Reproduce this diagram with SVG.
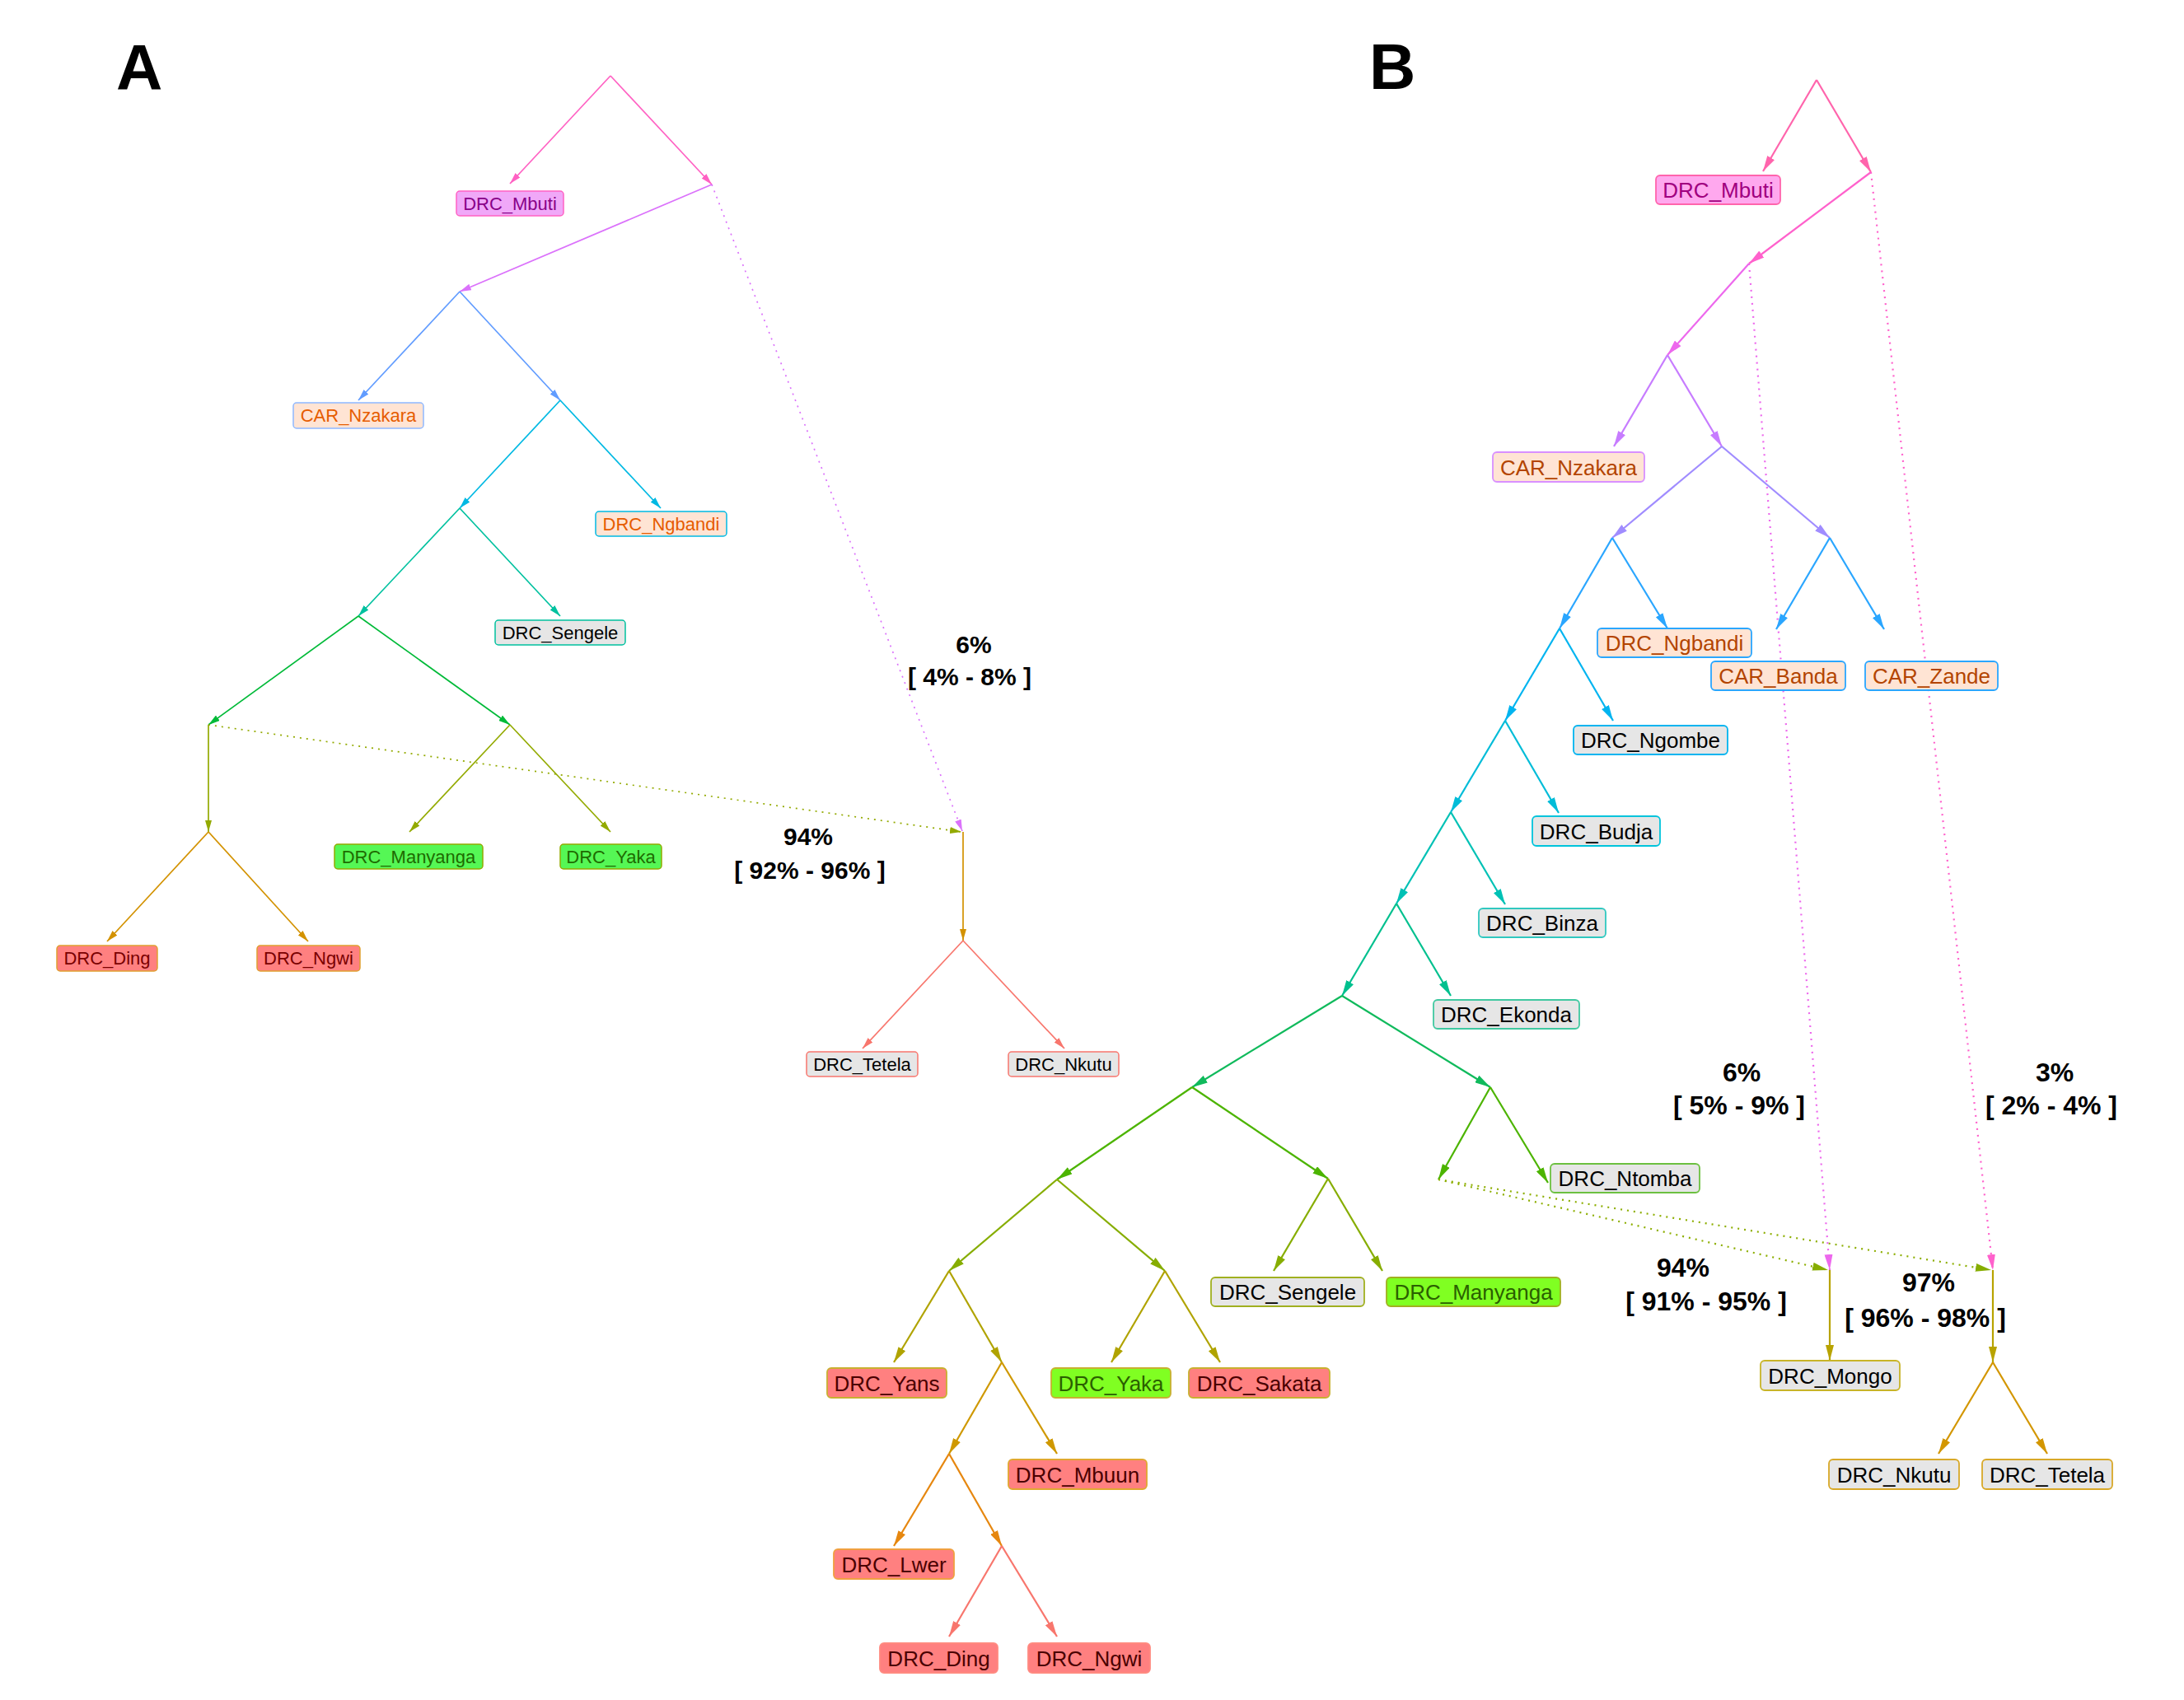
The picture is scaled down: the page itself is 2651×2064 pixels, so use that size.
<svg xmlns="http://www.w3.org/2000/svg" width="2651" height="2064" viewBox="0 0 2651 2064">
<style>
.e{fill:none;stroke-width:1.7}
.eb{fill:none;stroke-width:2.2}
.dot{stroke-dasharray:2 6}
text{font-family:"Liberation Sans",Arial,Helvetica,sans-serif}
.nA rect{stroke-width:1.5}
.nA text{font-size:22px;text-anchor:middle}
.nB rect{stroke-width:1.8}
.nB text{font-size:26px;text-anchor:middle}
.pA{font-size:30px;font-weight:bold;text-anchor:middle;fill:#000}
.pB{font-size:32px;font-weight:bold;text-anchor:middle;fill:#000}
.panel{font-size:78px;font-weight:bold;fill:#000}
.gray rect{fill:#e6e6e6}
.gray text{fill:#000}
.peachA rect{fill:#ffe4d4}
.peachA text{fill:#e65c00}
.peachB rect{fill:#ffe4d4}
.peachB text{fill:#b34400}
.greenA rect{fill:#55f755}
.greenA text{fill:#1e6b00}
.greenB rect{fill:#80ff22}
.greenB text{fill:#2a6000}
.redA rect{fill:#ff8080}
.redA text{fill:#7a0000}
.redB rect{fill:#ff8080}
.redB text{fill:#4a0000}
</style>
<defs>
<marker id="a1" markerUnits="userSpaceOnUse" markerWidth="14" markerHeight="8" viewBox="0 0 14 8" refX="14" refY="4" orient="auto"><path d="M0,0L14,4L0,8z" fill="#ff61c3"/></marker>
<marker id="a2" markerUnits="userSpaceOnUse" markerWidth="14" markerHeight="8" viewBox="0 0 14 8" refX="14" refY="4" orient="auto"><path d="M0,0L14,4L0,8z" fill="#db72fb"/></marker>
<marker id="a3" markerUnits="userSpaceOnUse" markerWidth="14" markerHeight="8" viewBox="0 0 14 8" refX="14" refY="4" orient="auto"><path d="M0,0L14,4L0,8z" fill="#619cff"/></marker>
<marker id="a4" markerUnits="userSpaceOnUse" markerWidth="14" markerHeight="8" viewBox="0 0 14 8" refX="14" refY="4" orient="auto"><path d="M0,0L14,4L0,8z" fill="#00b9e3"/></marker>
<marker id="a5" markerUnits="userSpaceOnUse" markerWidth="14" markerHeight="8" viewBox="0 0 14 8" refX="14" refY="4" orient="auto"><path d="M0,0L14,4L0,8z" fill="#00c19f"/></marker>
<marker id="a6" markerUnits="userSpaceOnUse" markerWidth="14" markerHeight="8" viewBox="0 0 14 8" refX="14" refY="4" orient="auto"><path d="M0,0L14,4L0,8z" fill="#00ba38"/></marker>
<marker id="a7" markerUnits="userSpaceOnUse" markerWidth="14" markerHeight="8" viewBox="0 0 14 8" refX="14" refY="4" orient="auto"><path d="M0,0L14,4L0,8z" fill="#93aa00"/></marker>
<marker id="a8" markerUnits="userSpaceOnUse" markerWidth="14" markerHeight="8" viewBox="0 0 14 8" refX="14" refY="4" orient="auto"><path d="M0,0L14,4L0,8z" fill="#d39200"/></marker>
<marker id="a9" markerUnits="userSpaceOnUse" markerWidth="14" markerHeight="8" viewBox="0 0 14 8" refX="14" refY="4" orient="auto"><path d="M0,0L14,4L0,8z" fill="#f8766d"/></marker>
<marker id="b1" markerUnits="userSpaceOnUse" markerWidth="19" markerHeight="10" viewBox="0 0 19 10" refX="19" refY="5" orient="auto"><path d="M0,0L19,5L0,10z" fill="#ff64ac"/></marker>
<marker id="b2" markerUnits="userSpaceOnUse" markerWidth="19" markerHeight="10" viewBox="0 0 19 10" refX="19" refY="5" orient="auto"><path d="M0,0L19,5L0,10z" fill="#ff61cc"/></marker>
<marker id="b3" markerUnits="userSpaceOnUse" markerWidth="19" markerHeight="10" viewBox="0 0 19 10" refX="19" refY="5" orient="auto"><path d="M0,0L19,5L0,10z" fill="#ed68ed"/></marker>
<marker id="b4" markerUnits="userSpaceOnUse" markerWidth="19" markerHeight="10" viewBox="0 0 19 10" refX="19" refY="5" orient="auto"><path d="M0,0L19,5L0,10z" fill="#c77cff"/></marker>
<marker id="b5" markerUnits="userSpaceOnUse" markerWidth="19" markerHeight="10" viewBox="0 0 19 10" refX="19" refY="5" orient="auto"><path d="M0,0L19,5L0,10z" fill="#a08cff"/></marker>
<marker id="b6" markerUnits="userSpaceOnUse" markerWidth="19" markerHeight="10" viewBox="0 0 19 10" refX="19" refY="5" orient="auto"><path d="M0,0L19,5L0,10z" fill="#2aa6ff"/></marker>
<marker id="b7" markerUnits="userSpaceOnUse" markerWidth="19" markerHeight="10" viewBox="0 0 19 10" refX="19" refY="5" orient="auto"><path d="M0,0L19,5L0,10z" fill="#00b4f0"/></marker>
<marker id="b8" markerUnits="userSpaceOnUse" markerWidth="19" markerHeight="10" viewBox="0 0 19 10" refX="19" refY="5" orient="auto"><path d="M0,0L19,5L0,10z" fill="#00bcd8"/></marker>
<marker id="b9" markerUnits="userSpaceOnUse" markerWidth="19" markerHeight="10" viewBox="0 0 19 10" refX="19" refY="5" orient="auto"><path d="M0,0L19,5L0,10z" fill="#00c1b5"/></marker>
<marker id="b10" markerUnits="userSpaceOnUse" markerWidth="19" markerHeight="10" viewBox="0 0 19 10" refX="19" refY="5" orient="auto"><path d="M0,0L19,5L0,10z" fill="#00c08e"/></marker>
<marker id="b11" markerUnits="userSpaceOnUse" markerWidth="19" markerHeight="10" viewBox="0 0 19 10" refX="19" refY="5" orient="auto"><path d="M0,0L19,5L0,10z" fill="#10ba5c"/></marker>
<marker id="b12" markerUnits="userSpaceOnUse" markerWidth="19" markerHeight="10" viewBox="0 0 19 10" refX="19" refY="5" orient="auto"><path d="M0,0L19,5L0,10z" fill="#4cb400"/></marker>
<marker id="b13" markerUnits="userSpaceOnUse" markerWidth="19" markerHeight="10" viewBox="0 0 19 10" refX="19" refY="5" orient="auto"><path d="M0,0L19,5L0,10z" fill="#86ad00"/></marker>
<marker id="b14" markerUnits="userSpaceOnUse" markerWidth="19" markerHeight="10" viewBox="0 0 19 10" refX="19" refY="5" orient="auto"><path d="M0,0L19,5L0,10z" fill="#b0a300"/></marker>
<marker id="b15" markerUnits="userSpaceOnUse" markerWidth="19" markerHeight="10" viewBox="0 0 19 10" refX="19" refY="5" orient="auto"><path d="M0,0L19,5L0,10z" fill="#cf9800"/></marker>
<marker id="b16" markerUnits="userSpaceOnUse" markerWidth="19" markerHeight="10" viewBox="0 0 19 10" refX="19" refY="5" orient="auto"><path d="M0,0L19,5L0,10z" fill="#e6870f"/></marker>
<marker id="b17" markerUnits="userSpaceOnUse" markerWidth="19" markerHeight="10" viewBox="0 0 19 10" refX="19" refY="5" orient="auto"><path d="M0,0L19,5L0,10z" fill="#f8766d"/></marker>
<marker id="b18" markerUnits="userSpaceOnUse" markerWidth="19" markerHeight="10" viewBox="0 0 19 10" refX="19" refY="5" orient="auto"><path d="M0,0L19,5L0,10z" fill="#d39600"/></marker>
<marker id="bv" markerUnits="userSpaceOnUse" markerWidth="19" markerHeight="10" viewBox="0 0 19 10" refX="19" refY="5" orient="auto"><path d="M0,0L19,5L0,10z" fill="#b8a300"/></marker>
</defs>
<rect x="0" y="0" width="2651" height="2064" fill="#ffffff"/>
<text class="panel" x="141" y="109">A</text>
<text class="panel" x="1662" y="108">B</text>

<g id="connectors">
<g id="connectors-A" class="e">
<path d="M741,92L619,223" stroke="#ff61c3" marker-end="url(#a1)"/>
<path d="M741,92L864,224" stroke="#ff61c3" marker-end="url(#a1)"/>
<path d="M864,224L558,354" stroke="#db72fb" marker-end="url(#a2)"/>
<path class="dot" d="M864,224L1168,1009" stroke="#db72fb" marker-end="url(#a2)"/>
<path d="M558,354L435,486" stroke="#619cff" marker-end="url(#a3)"/>
<path d="M558,354L680,486" stroke="#619cff" marker-end="url(#a3)"/>
<path d="M680,486L558,617" stroke="#00b9e3" marker-end="url(#a4)"/>
<path d="M680,486L802,617" stroke="#00b9e3" marker-end="url(#a4)"/>
<path d="M558,617L435,748" stroke="#00c19f" marker-end="url(#a5)"/>
<path d="M558,617L680,748" stroke="#00c19f" marker-end="url(#a5)"/>
<path d="M435,748L253,880" stroke="#00ba38" marker-end="url(#a6)"/>
<path d="M435,748L619,880" stroke="#00ba38" marker-end="url(#a6)"/>
<path d="M253,880L253,1010" stroke="#93aa00" marker-end="url(#a7)"/>
<path class="dot" d="M253,880L1167,1010" stroke="#93aa00" marker-end="url(#a7)"/>
<path d="M619,880L497,1010" stroke="#93aa00" marker-end="url(#a7)"/>
<path d="M619,880L741,1010" stroke="#93aa00" marker-end="url(#a7)"/>
<path d="M253,1010L130,1143" stroke="#d39200" marker-end="url(#a8)"/>
<path d="M253,1010L374,1143" stroke="#d39200" marker-end="url(#a8)"/>
<path d="M1169,1010L1169,1142" stroke="#d39200" marker-end="url(#a8)"/>
<path d="M1169,1142L1047,1273" stroke="#f8766d" marker-end="url(#a9)"/>
<path d="M1169,1142L1292,1273" stroke="#f8766d" marker-end="url(#a9)"/>
</g>
<g id="connectors-B" class="eb">
<path d="M2205,97L2140,208" stroke="#ff64ac" marker-end="url(#b1)"/>
<path d="M2205,97L2271,209" stroke="#ff64ac" marker-end="url(#b1)"/>
<path d="M2271,209L2123,320" stroke="#ff61cc" marker-end="url(#b2)"/>
<path class="dot" d="M2271,209L2419,1542" stroke="#ff61cc" marker-end="url(#b2)"/>
<path d="M2123,320L2024,431" stroke="#ed68ed" marker-end="url(#b3)"/>
<path class="dot" d="M2123,320L2221,1542" stroke="#ed68ed" marker-end="url(#b3)"/>
<path d="M2024,431L1959,542" stroke="#c77cff" marker-end="url(#b4)"/>
<path d="M2024,431L2090,542" stroke="#c77cff" marker-end="url(#b4)"/>
<path d="M2090,542L1957,653" stroke="#a08cff" marker-end="url(#b5)"/>
<path d="M2090,542L2221,653" stroke="#a08cff" marker-end="url(#b5)"/>
<path d="M1957,653L1893,763" stroke="#2aa6ff" marker-end="url(#b6)"/>
<path d="M1957,653L2024,763" stroke="#2aa6ff" marker-end="url(#b6)"/>
<path d="M2221,653L2156,764" stroke="#2aa6ff" marker-end="url(#b6)"/>
<path d="M2221,653L2287,764" stroke="#2aa6ff" marker-end="url(#b6)"/>
<path d="M1893,763L1827,875" stroke="#00b4f0" marker-end="url(#b7)"/>
<path d="M1893,763L1958,875" stroke="#00b4f0" marker-end="url(#b7)"/>
<path d="M1827,875L1761,986" stroke="#00bcd8" marker-end="url(#b8)"/>
<path d="M1827,875L1892,987" stroke="#00bcd8" marker-end="url(#b8)"/>
<path d="M1761,986L1695,1097" stroke="#00c1b5" marker-end="url(#b9)"/>
<path d="M1761,986L1827,1098" stroke="#00c1b5" marker-end="url(#b9)"/>
<path d="M1695,1097L1629,1209" stroke="#00c08e" marker-end="url(#b10)"/>
<path d="M1695,1097L1761,1209" stroke="#00c08e" marker-end="url(#b10)"/>
<path d="M1629,1209L1447,1320" stroke="#10ba5c" marker-end="url(#b11)"/>
<path d="M1629,1209L1809,1320" stroke="#10ba5c" marker-end="url(#b11)"/>
<path d="M1809,1320L1746,1432" stroke="#4cb400" marker-end="url(#b12)"/>
<path d="M1809,1320L1879,1436" stroke="#4cb400" marker-end="url(#b12)"/>
<path d="M1447,1320L1283,1432" stroke="#4cb400" marker-end="url(#b12)"/>
<path d="M1447,1320L1612,1431" stroke="#4cb400" marker-end="url(#b12)"/>
<path class="dot" d="M1746,1432L2219,1542" stroke="#8dae00" marker-end="url(#b13)"/>
<path class="dot" d="M1746,1432L2417,1542" stroke="#8dae00" marker-end="url(#b13)"/>
<path d="M1612,1431L1546,1543" stroke="#86ad00" marker-end="url(#b13)"/>
<path d="M1612,1431L1678,1543" stroke="#86ad00" marker-end="url(#b13)"/>
<path d="M1283,1432L1152,1543" stroke="#86ad00" marker-end="url(#b13)"/>
<path d="M1283,1432L1414,1543" stroke="#86ad00" marker-end="url(#b13)"/>
<path d="M1152,1543L1085,1654" stroke="#b0a300" marker-end="url(#b14)"/>
<path d="M1152,1543L1216,1654" stroke="#b0a300" marker-end="url(#b14)"/>
<path d="M1414,1543L1349,1654" stroke="#b0a300" marker-end="url(#b14)"/>
<path d="M1414,1543L1481,1654" stroke="#b0a300" marker-end="url(#b14)"/>
<path d="M1216,1654L1152,1765" stroke="#cf9800" marker-end="url(#b15)"/>
<path d="M1216,1654L1283,1765" stroke="#cf9800" marker-end="url(#b15)"/>
<path d="M1152,1765L1085,1877" stroke="#e6870f" marker-end="url(#b16)"/>
<path d="M1152,1765L1216,1877" stroke="#e6870f" marker-end="url(#b16)"/>
<path d="M1216,1877L1152,1987" stroke="#f8766d" marker-end="url(#b17)"/>
<path d="M1216,1877L1283,1987" stroke="#f8766d" marker-end="url(#b17)"/>
<path d="M2221,1542L2221,1652" stroke="#b8a300" marker-end="url(#bv)"/>
<path d="M2419,1542L2419,1654" stroke="#b8a300" marker-end="url(#bv)"/>
<path d="M2419,1654L2353,1765" stroke="#d39600" marker-end="url(#b18)"/>
<path d="M2419,1654L2485,1765" stroke="#d39600" marker-end="url(#b18)"/>
</g>
</g>

<g id="labels-A">
<text class="pA" x="1182" y="793">6%</text>
<text class="pA" x="1177" y="832">[ 4% - 8% ]</text>
<text class="pA" x="981" y="1026">94%</text>
<text class="pA" x="983" y="1067">[ 92% - 96% ]</text>
</g>
<g id="labels-B">
<text class="pB" x="2114" y="1313">6%</text>
<text class="pB" x="2111" y="1353">[ 5% - 9% ]</text>
<text class="pB" x="2494" y="1313">3%</text>
<text class="pB" x="2490" y="1353">[ 2% - 4% ]</text>
<text class="pB" x="2043" y="1550">94%</text>
<text class="pB" x="2071" y="1591">[ 91% - 95% ]</text>
<text class="pB" x="2341" y="1568">97%</text>
<text class="pB" x="2337" y="1611">[ 96% - 98% ]</text>
</g>

<g id="A-DRC_Mbuti" class="nA"><rect x="554" y="232" width="130" height="30" rx="4" fill="#f0a8f8" stroke="#ff61c3"/><text x="619" y="255" fill="#880088">DRC_Mbuti</text></g>
<g id="A-CAR_Nzakara" class="nA peachA"><rect x="356" y="489" width="158" height="31" rx="4" stroke="#8fb8ff"/><text x="435" y="512">CAR_Nzakara</text></g>
<g id="A-DRC_Ngbandi" class="nA peachA"><rect x="723" y="621" width="159" height="30" rx="4" stroke="#00b9e3"/><text x="802.5" y="644">DRC_Ngbandi</text></g>
<g id="A-DRC_Sengele" class="nA gray"><rect x="601" y="753" width="158" height="30" rx="4" stroke="#00c19f"/><text x="680" y="776">DRC_Sengele</text></g>
<g id="A-DRC_Manyanga" class="nA greenA"><rect x="406" y="1025" width="180" height="30" rx="4" stroke="#93aa00"/><text x="496" y="1048">DRC_Manyanga</text></g>
<g id="A-DRC_Yaka" class="nA greenA"><rect x="680" y="1025" width="123" height="30" rx="4" stroke="#93aa00"/><text x="741.5" y="1048">DRC_Yaka</text></g>
<g id="A-DRC_Ding" class="nA redA"><rect x="69" y="1148" width="122" height="31" rx="4" stroke="#e0a030"/><text x="130" y="1171">DRC_Ding</text></g>
<g id="A-DRC_Ngwi" class="nA redA"><rect x="312" y="1148" width="125" height="31" rx="4" stroke="#e0a030"/><text x="374.5" y="1171">DRC_Ngwi</text></g>
<g id="A-DRC_Tetela" class="nA gray"><rect x="979" y="1277" width="135" height="30" rx="4" stroke="#f8766d"/><text x="1046.5" y="1300">DRC_Tetela</text></g>
<g id="A-DRC_Nkutu" class="nA gray"><rect x="1224" y="1277" width="134" height="30" rx="4" stroke="#f8766d"/><text x="1291" y="1300">DRC_Nkutu</text></g>

<g id="B-DRC_Mbuti" class="nB"><rect x="2010" y="213" width="151" height="35" rx="5" fill="#ffa8ee" stroke="#ff64ac"/><text x="2085.5" y="240" fill="#a0007f">DRC_Mbuti</text></g>
<g id="B-CAR_Nzakara" class="nB peachB"><rect x="1812" y="549" width="184" height="36" rx="5" stroke="#d890ff"/><text x="1904" y="576.5">CAR_Nzakara</text></g>
<g id="B-DRC_Ngbandi" class="nB peachB"><rect x="1939" y="763" width="187" height="35" rx="5" stroke="#2aa6ff"/><text x="2032.5" y="790">DRC_Ngbandi</text></g>
<g id="B-CAR_Banda" class="nB peachB"><rect x="2077" y="803" width="163" height="35" rx="5" stroke="#2aa6ff"/><text x="2158.5" y="830">CAR_Banda</text></g>
<g id="B-CAR_Zande" class="nB peachB"><rect x="2264" y="803" width="161" height="35" rx="5" stroke="#2aa6ff"/><text x="2344.5" y="830">CAR_Zande</text></g>
<g id="B-DRC_Ngombe" class="nB gray"><rect x="1910" y="881" width="187" height="35" rx="5" stroke="#00b4f0"/><text x="2003.5" y="908">DRC_Ngombe</text></g>
<g id="B-DRC_Budja" class="nB gray"><rect x="1860" y="991" width="155" height="36" rx="5" stroke="#00c4dc"/><text x="1937.5" y="1018.5">DRC_Budja</text></g>
<g id="B-DRC_Binza" class="nB gray"><rect x="1795" y="1103" width="154" height="35" rx="5" stroke="#30c8c0"/><text x="1872" y="1130">DRC_Binza</text></g>
<g id="B-DRC_Ekonda" class="nB gray"><rect x="1740" y="1214" width="177" height="35" rx="5" stroke="#40c8a0"/><text x="1828.5" y="1241">DRC_Ekonda</text></g>
<g id="B-DRC_Ntomba" class="nB gray"><rect x="1882" y="1413" width="181" height="35" rx="5" stroke="#6cc040"/><text x="1972.5" y="1440">DRC_Ntomba</text></g>
<g id="B-DRC_Sengele" class="nB gray"><rect x="1470" y="1551" width="186" height="35" rx="5" stroke="#a0b020"/><text x="1563" y="1578">DRC_Sengele</text></g>
<g id="B-DRC_Manyanga" class="nB greenB"><rect x="1683" y="1551" width="211" height="35" rx="5" stroke="#a0b020"/><text x="1788.5" y="1578">DRC_Manyanga</text></g>
<g id="B-DRC_Yans" class="nB redB"><rect x="1004" y="1661" width="145" height="36" rx="5" stroke="#c8b030"/><text x="1076.5" y="1688.5">DRC_Yans</text></g>
<g id="B-DRC_Yaka" class="nB greenB"><rect x="1276" y="1661" width="145" height="36" rx="5" stroke="#c8b030"/><text x="1348.5" y="1688.5">DRC_Yaka</text></g>
<g id="B-DRC_Sakata" class="nB redB"><rect x="1443" y="1661" width="171" height="36" rx="5" stroke="#c8b030"/><text x="1528.5" y="1688.5">DRC_Sakata</text></g>
<g id="B-DRC_Mbuun" class="nB redB"><rect x="1224" y="1772" width="168" height="36" rx="5" stroke="#e0a830"/><text x="1308" y="1799.5">DRC_Mbuun</text></g>
<g id="B-DRC_Lwer" class="nB redB"><rect x="1012" y="1881" width="146" height="36" rx="5" stroke="#f0a040"/><text x="1085" y="1908.5">DRC_Lwer</text></g>
<g id="B-DRC_Ding" class="nB redB"><rect x="1068" y="1995" width="143" height="36" rx="5" stroke="#ff8a80"/><text x="1139.5" y="2022.5">DRC_Ding</text></g>
<g id="B-DRC_Ngwi" class="nB redB"><rect x="1248" y="1995" width="148" height="36" rx="5" stroke="#ff8a80"/><text x="1322" y="2022.5">DRC_Ngwi</text></g>
<g id="B-DRC_Mongo" class="nB gray"><rect x="2137" y="1652" width="169" height="36" rx="5" stroke="#c8b428"/><text x="2221.5" y="1679.5">DRC_Mongo</text></g>
<g id="B-DRC_Nkutu" class="nB gray"><rect x="2220" y="1772" width="158" height="36" rx="5" stroke="#d8a828"/><text x="2299" y="1799.5">DRC_Nkutu</text></g>
<g id="B-DRC_Tetela" class="nB gray"><rect x="2406" y="1772" width="158" height="36" rx="5" stroke="#d8a828"/><text x="2485" y="1799.5">DRC_Tetela</text></g>
</svg>
